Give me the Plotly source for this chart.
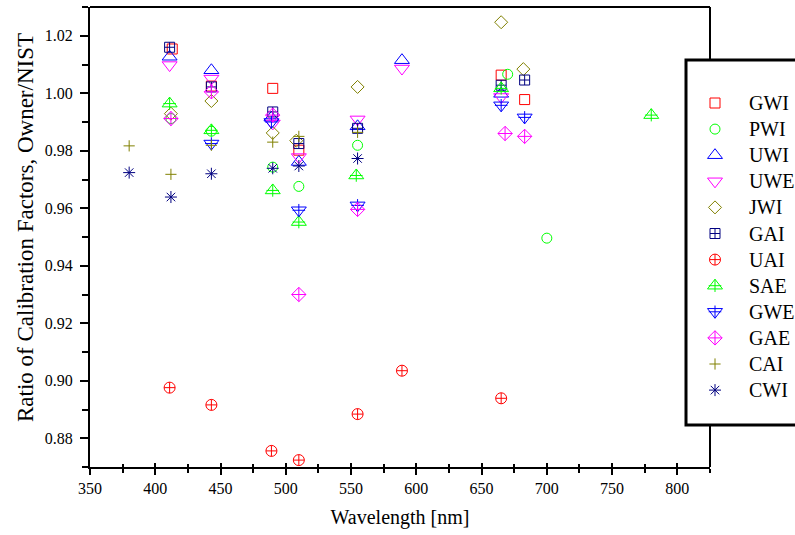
import plotly.graph_objects as go

FONT = "Liberation Serif"

# Wavelength [nm] and owner/NIST calibration-factor ratio for each instrument
gwi_wl = [413, 443, 490, 510, 665, 683]
gwi_ratio = [1.0154, 1.0025, 1.0017, 0.9802, 1.0063, 0.9978]

pwi_wl = [412, 443, 490, 510, 555, 670, 700]
pwi_ratio = [0.9912, 0.9868, 0.9743, 0.9676, 0.9819, 1.0066, 0.9496]

uwi_wl = [411, 443, 489, 510, 555, 589, 665]
uwi_ratio = [1.0127, 1.0080, 0.9915, 0.9761, 0.9885, 1.0115, 0.9998]

uwe_wl = [411, 443, 490, 510, 555, 589, 665]
uwe_ratio = [1.0098, 1.0051, 0.9895, 0.9778, 0.9909, 1.0086, 0.9987]

jwi_wl = [412, 443, 490, 508, 555, 665, 682]
jwi_ratio = [0.9929, 0.9973, 0.9862, 0.9835, 1.0022, 1.0247, 1.0084]

gai_wl = [411, 443, 490, 510, 555, 665, 683]
gai_ratio = [1.0160, 1.0022, 0.9935, 0.9825, 0.9878, 1.0028, 1.0046]

uai_wl = [411, 443, 489, 510, 555, 589, 665]
uai_ratio = [0.8976, 0.8916, 0.8756, 0.8724, 0.8884, 0.9035, 0.8939]

sae_wl = [411, 443, 490, 510, 554, 665, 780]
sae_ratio = [0.9964, 0.9871, 0.9662, 0.9552, 0.9714, 1.0017, 0.9924]

gwe_wl = [443, 489, 510, 555, 665, 683]
gwe_ratio = [0.9825, 0.9900, 0.9593, 0.9610, 0.9958, 0.9916]

gae_wl = [412, 443, 490, 510, 555, 668, 683]
gae_ratio = [0.9912, 1.0005, 0.9924, 0.9300, 0.9596, 0.9860, 0.9850]

cai_wl = [380, 412, 443, 490, 510, 555]
cai_ratio = [0.9817, 0.9718, 0.9819, 0.9830, 0.9850, 0.9864]

cwi_wl = [380, 412, 443, 490, 510, 555]
cwi_ratio = [0.9724, 0.9639, 0.9720, 0.9739, 0.9747, 0.9773]

x_ticks = [350, 400, 450, 500, 550, 600, 650, 700, 750, 800]
y_ticks = [0.88, 0.90, 0.92, 0.94, 0.96, 0.98, 1.00, 1.02]

RED, GREEN, BLUE = "#ff0000", "#00ff00", "#0000ff"
MAGENTA, OLIVE, NAVY = "#ff00ff", "#808000", "#000080"

# name, x, y, colour, symbol, size, size of the bar-cross drawn through the symbol
series = [
    ("GWI", gwi_wl, gwi_ratio, RED, "square-open", 10, None),
    ("PWI", pwi_wl, pwi_ratio, GREEN, "circle-open", 10, None),
    ("UWI", uwi_wl, uwi_ratio, BLUE, "triangle-up-open", 13, None),
    ("UWE", uwe_wl, uwe_ratio, MAGENTA, "triangle-down-open", 13, None),
    ("JWI", jwi_wl, jwi_ratio, OLIVE, "diamond-open", 10, None),
    ("GAI", gai_wl, gai_ratio, NAVY, "square-cross-open", 10, None),
    ("UAI", uai_wl, uai_ratio, RED, "circle-cross-open", 11, None),
    ("SAE", sae_wl, sae_ratio, GREEN, "triangle-up-open", 13, 9),
    ("GWE", gwe_wl, gwe_ratio, BLUE, "triangle-down-open", 13, 9),
    ("GAE", gae_wl, gae_ratio, MAGENTA, "diamond-cross-open", 11, None),
    ("CAI", cai_wl, cai_ratio, OLIVE, "cross-thin-open", 8, None),
    ("CWI", cwi_wl, cwi_ratio, NAVY, "asterisk-open", 10, None),
]

W, H = 795, 535
ML, MR, MT, MB = 90, 0, 7, 68
PW, PH = W - ML - MR, H - MT - MB
X_END = 620 / PW                       # right edge of the data frame (paper units)
LEG_L, LEG_B, LEG_T = 596 / PW, 42 / PH, 407 / PH
LEG_W, LEG_H = 109, 365                # legend panel size in pixels
ROW0, ROW_STEP = 43, 26.1
MARK_X, TEXT_X = 29, 61

fig = go.Figure()

for name, xs, ys, col, sym, size, bar in series:
    fig.add_trace(go.Scatter(
        x=xs, y=ys, mode="markers", name=name, showlegend=False,
        marker=dict(symbol=sym, size=size, color=col, line=dict(width=1, color=col)),
    ))
    if bar:
        fig.add_trace(go.Scatter(
            x=xs, y=ys, mode="markers", showlegend=False, hoverinfo="skip",
            marker=dict(symbol="cross-thin-open", size=bar, color=col,
                        line=dict(width=1, color=col)),
        ))

# legend panel drawn on its own pixel-scaled axes
for i, (name, xs, ys, col, sym, size, bar) in enumerate(series):
    row = ROW0 + ROW_STEP * i
    fig.add_trace(go.Scatter(
        x=[MARK_X], y=[row], mode="markers", xaxis="x2", yaxis="y2",
        showlegend=False, hoverinfo="skip",
        marker=dict(symbol=sym, size=size, color=col, line=dict(width=1, color=col)),
    ))
    if bar:
        fig.add_trace(go.Scatter(
            x=[MARK_X], y=[row], mode="markers", xaxis="x2", yaxis="y2",
            showlegend=False, hoverinfo="skip",
            marker=dict(symbol="cross-thin-open", size=bar, color=col,
                        line=dict(width=1, color=col)),
        ))
    fig.add_annotation(x=TEXT_X, y=row, xref="x2", yref="y2", text=name,
                       showarrow=False, xanchor="left", yanchor="middle",
                       font=dict(family=FONT, size=20, color="black"))

# vertical axis title, placed a little above the middle of the frame
fig.add_annotation(x=(25 - ML) / PW, y=(467 - 228) / PH, xref="paper", yref="paper",
                   text="Ratio of Calibration Factors, Owner/NIST", textangle=-90,
                   showarrow=False, xanchor="center", yanchor="middle",
                   font=dict(family=FONT, size=23, color="black"))

# inner half of the crossing ticks on the wavelength axis
fig.add_trace(go.Scatter(x=[], y=[], xaxis="x3", yaxis="y", showlegend=False))

fig.update_layout(
    width=W, height=H,
    margin=dict(l=ML, r=MR, t=MT, b=MB, pad=0),
    paper_bgcolor="white", plot_bgcolor="white",
    font=dict(family=FONT, color="black"),
    showlegend=False,
    xaxis=dict(
        domain=[0, X_END], range=[350, 825], showgrid=False, zeroline=False,
        showline=True, linewidth=2, linecolor="black", mirror=False,
        tickmode="array", tickvals=x_ticks, ticktext=[str(v) for v in x_ticks],
        ticks="outside", ticklen=6, tickwidth=1.5, tickcolor="black",
        minor=dict(dtick=25, tick0=350, ticks="outside", ticklen=4,
                   tickwidth=1.5, tickcolor="black"),
        tickfont=dict(family=FONT, size=16, color="black"),
        title=dict(text="Wavelength [nm]", standoff=14,
                   font=dict(family=FONT, size=20, color="black")),
    ),
    xaxis3=dict(
        domain=[0, X_END], range=[350, 825], overlaying="x", anchor="y",
        side="bottom", showgrid=False, zeroline=False, showline=False,
        showticklabels=False, tickmode="array", tickvals=x_ticks,
        ticks="inside", ticklen=4, tickwidth=1.5, tickcolor="black",
        minor=dict(dtick=25, tick0=350, ticks="inside", ticklen=3,
                   tickwidth=1.5, tickcolor="black"),
    ),
    yaxis=dict(
        domain=[0, 1], range=[0.87, 1.03], showgrid=False, zeroline=False,
        showline=True, linewidth=2, linecolor="black", mirror=False,
        tickmode="array", tickvals=y_ticks, ticktext=[f"{v:.2f}" for v in y_ticks],
        ticks="outside", ticklen=8, tickwidth=1.5, tickcolor="black",
        minor=dict(dtick=0.01, tick0=0.87, ticks="outside", ticklen=6,
                   tickwidth=1.5, tickcolor="black"),
        ticklabelstandoff=4,
        tickfont=dict(family=FONT, size=16, color="black"),
    ),
    xaxis2=dict(domain=[LEG_L, 1], range=[0, LEG_W], visible=False, fixedrange=True),
    yaxis2=dict(domain=[LEG_B, LEG_T], range=[LEG_H, 0], visible=False,
                anchor="x2", fixedrange=True),
    shapes=[
        # top and right sides of the frame; the right side stops at the legend box
        dict(type="line", xref="paper", yref="paper", x0=0, x1=X_END, y0=1, y1=1,
             line=dict(color="black", width=2)),
        dict(type="line", xref="paper", yref="paper", x0=X_END, x1=X_END,
             y0=1, y1=LEG_T, line=dict(color="black", width=2)),
        dict(type="line", xref="paper", yref="paper", x0=X_END, x1=X_END,
             y0=0, y1=LEG_B, line=dict(color="black", width=2)),
        # legend box
        dict(type="rect", xref="paper", yref="paper", x0=LEG_L, x1=1.02,
             y0=LEG_B, y1=LEG_T, line=dict(color="black", width=3),
             fillcolor="rgba(0,0,0,0)", layer="above"),
    ],
)

fig.write_html("out.html")
